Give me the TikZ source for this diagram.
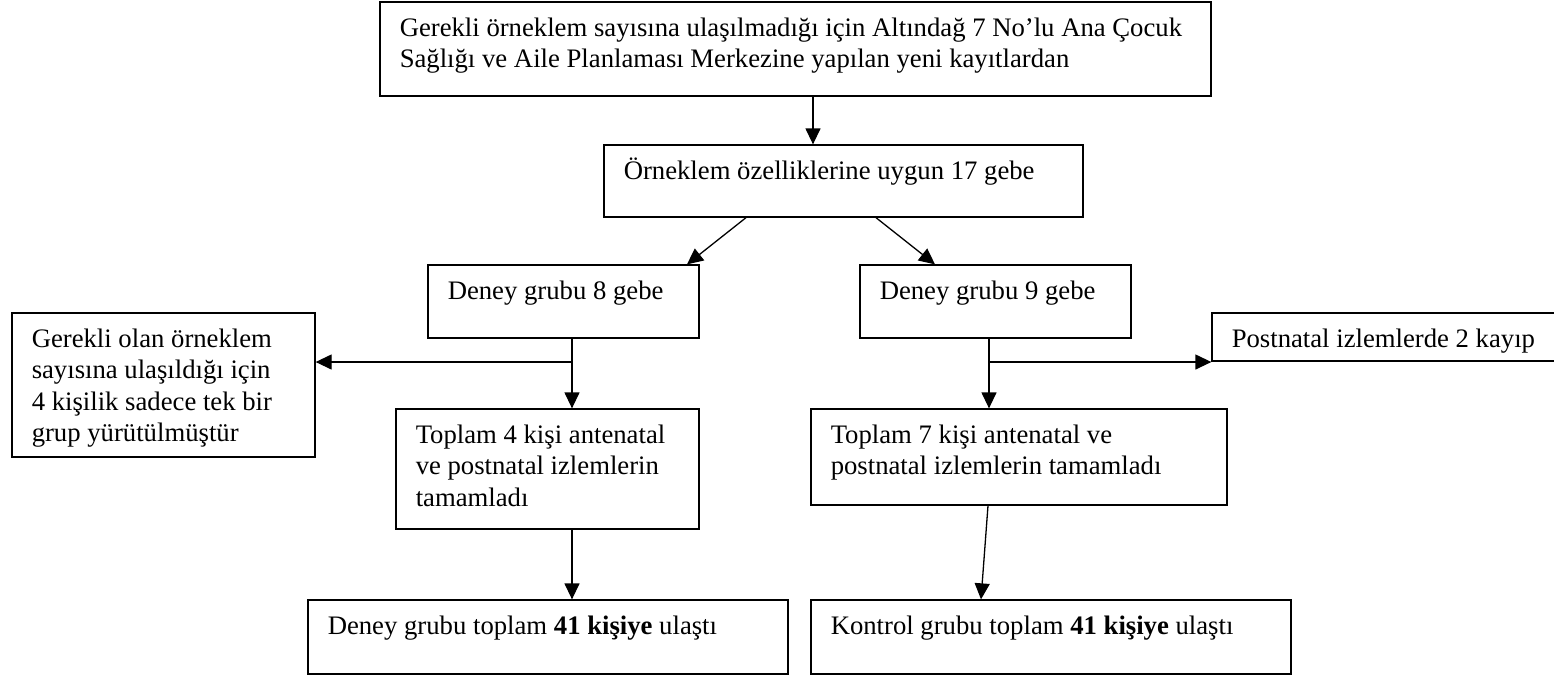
\documentclass[tikz,border=0pt]{standalone}
\usepackage{fontspec}
\setmainfont{Liberation Serif}
\usetikzlibrary{arrows.meta,calc}
\tikzset{
  boxst/.style={draw, line width=0.65pt, rectangle, inner sep=0pt},
  txt/.style={inner sep=0pt, anchor=base west},
  arr/.style={line width=0.65pt, -{Triangle[length=8pt,width=7.5pt]}}
}
\newcommand{\flowbox}[6]{%
  \node[boxst, minimum width={(#4-#2)*0.5pt}, minimum height={(#5-#3)*0.5pt}] (#1) at ({(#2+#4)/2},{(#3+#5)/2}) {};
  \node[txt] (#1t) at ([shift={(20,35)}]#1.north west) {\parbox[t]{420pt}{\fontsize{13.35}{15.7}\selectfont\raggedright #6}};
}
\begin{document}
\begin{tikzpicture}[x=0.5pt,y=-0.5pt]
\useasboundingbox (0,0) rectangle (1554,677);
\fill[white] (0,0) rectangle (1554,677);
\flowbox{top}{380}{2}{1211}{96}{Gerekli örneklem sayısına ulaşılmadığı için Altındağ 7 No’lu Ana Çocuk\\Sağlığı ve Aile Planlaması Merkezine yapılan yeni kayıtlardan}
\flowbox{ornek}{604}{145}{1083}{217}{Örneklem özelliklerine uygun 17 gebe}
\flowbox{d8}{428}{265}{699}{338}{Deney grubu 8 gebe}
\flowbox{d9}{860}{265}{1131}{338}{Deney grubu 9 gebe}
\flowbox{gol}{12}{313}{315}{457}{Gerekli olan örneklem\\sayısına ulaşıldığı için\\4 kişilik sadece tek bir\\grup yürütülmüştür}
\flowbox{post}{1212}{313}{1562}{361}{Postnatal izlemlerde 2 kayıp}
\flowbox{t4}{396}{409}{699}{529}{Toplam 4 kişi antenatal\\ve postnatal izlemlerin\\tamamladı}
\flowbox{t7}{811}{409}{1227}{505}{Toplam 7 kişi antenatal ve\\postnatal izlemlerin tamamladı}
\flowbox{b1}{308}{600}{788}{674}{Deney grubu toplam \textbf{41 kişiye} ulaştı}
\flowbox{b2}{811}{600}{1291}{674}{Kontrol grubu toplam \textbf{41 kişiye} ulaştı}
\coordinate (k1) at (813,0);
\coordinate (k2) at (746,0);
\coordinate (k3) at (687,0);
\coordinate (k4) at (876,0);
\coordinate (k5) at (935,0);
\coordinate (k6) at (572,0);
\coordinate (k7) at (989,0);
\coordinate (k8) at (988,0);
\coordinate (k9) at (981,0);
\coordinate (j1) at (572,362);
\coordinate (j2) at (989,362);
\draw[arr] (top.south -| k1) -- (ornek.north -| k1);
\draw[arr] (ornek.south -| k2) -- (d8.north -| k3);
\draw[arr] (ornek.south -| k4) -- (d9.north -| k5);
\draw[arr] (d8.south -| k6) -- (t4.north -| k6);
\draw[arr] (j1) -- (gol.east |- j1);
\draw[arr] (d9.south -| k7) -- (t7.north -| k7);
\draw[arr] (j2) -- (post.west |- j2);
\draw[arr] (t4.south -| k6) -- (b1.north -| k6);
\draw[arr] (t7.south -| k8) -- (b2.north -| k9);
\end{tikzpicture}
\end{document}
